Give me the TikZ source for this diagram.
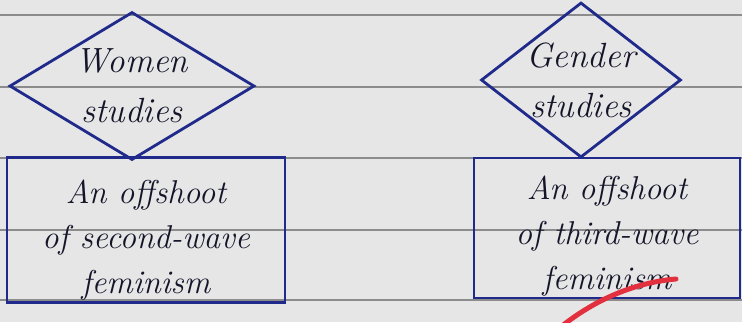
\documentclass[tikz,border=0pt]{standalone}
\usetikzlibrary{shapes.geometric, positioning}
\definecolor{ink}{HTML}{1F2A8A}
\definecolor{pen}{HTML}{15152A}
\definecolor{paper}{HTML}{E6E6E6}
\definecolor{ruling}{HTML}{8C8C8C}
\definecolor{marker}{HTML}{E2303F}
\tikzset{
  topic/.style={diamond, draw=ink, line width=2.8pt, inner sep=-30pt,
                align=center, text=pen,
                font=\fontsize{35}{50}\selectfont\itshape},
  note/.style={rectangle, draw=ink, line width=2.8pt, inner sep=0pt},
  notetext/.style={align=center, text=pen,
                   font=\fontsize{33}{45}\selectfont\itshape},
  ruled/.style={ruling, line width=1.6pt},
}
\begin{document}
\begin{tikzpicture}[x=1pt, y=-1pt]

  % notebook page
  \fill[paper] (0,0) rectangle (742,322);
  \useasboundingbox (0,0) rectangle (742,322);
  \foreach \y in {15,87,158,230,300}
    \draw[ruled] (0,\y) -- (742,\y);

  % left column
  \node[topic, minimum width=245pt, minimum height=148pt] (women) at (132,86)
    {Women\\studies};
  \node[note, minimum width=278pt, minimum height=145pt] (second) at (146,230) {};
  \node[notetext] (secondtxt) at ([yshift=-10pt]second.center)
    {An offshoot\\of second-wave\\feminism};

  % right column
  \node[topic, minimum width=200pt, minimum height=155pt] (gender) at (581,80)
    {Gender\\studies};
  \node[note, minimum width=266pt, minimum height=140pt] (third) at (607,228) {};
  \node[notetext] (thirdtxt) at ([yshift=-8pt]third.center)
    {An offshoot\\of third-wave\\feminism};

  % red marker stroke
  \draw[marker, line width=5pt, line cap=round]
    (562,326) .. controls (600,296) and (640,282) .. (676,279);

\end{tikzpicture}
\end{document}
